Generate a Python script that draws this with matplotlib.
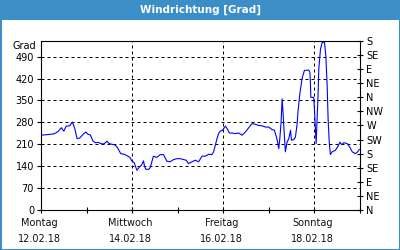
import matplotlib
matplotlib.use("Agg")
import matplotlib.pyplot as plt
from matplotlib.patches import Rectangle

# hours since Montag 12.02.18 00:00
hours = [0.0, 5.4, 7.2, 9.0, 10.7, 12.0, 13.3, 15.1, 16.5, 17.8, 19.0, 20.4, 22.2, 23.6,
         24.8, 26.0, 27.4, 28.6, 30.1, 31.5, 33.1, 34.8, 35.9, 37.5, 38.9, 40.2, 42.0,
         43.8, 45.5, 46.9, 47.8, 49.1, 50.5, 51.9, 52.9, 54.0, 54.5, 55.2, 56.6, 57.5,
         58.4, 59.2, 61.0, 62.8, 64.5, 66.3, 68.0, 69.8, 71.6, 73.3, 75.1, 76.5, 77.7,
         79.5, 81.2, 83.0, 84.8, 86.5, 88.3, 90.0, 90.9, 91.8, 92.7, 93.5, 94.4, 95.6,
         97.1, 98.0, 99.2, 100.6, 102.3, 104.1, 105.9, 107.6, 109.4, 111.1, 112.9, 114.6,
         116.4, 118.2, 119.9, 121.7, 122.9, 124.0, 124.6, 125.2, 125.7, 126.4, 127.0,
         127.5, 128.2, 128.7, 129.6, 130.5, 131.4, 131.9, 133.1, 134.0, 134.9, 135.4,
         136.3, 137.5, 138.7, 141.0, 141.6, 141.9, 142.1, 143.6, 144.0, 144.9, 145.4,
         145.9, 146.3, 147.2, 148.1, 149.3, 150.0, 150.7, 151.2, 151.8, 152.4, 153.3,
         155.1, 156.7, 157.4, 158.3, 159.5, 161.3, 162.6, 163.9, 165.6, 166.8, 167.6]
grad = [239, 242, 244, 251, 263, 252, 268, 269, 281, 260, 228, 230, 242, 249,
        242, 240, 220, 215, 216, 212, 211, 220, 212, 210, 208, 200, 180,
        178, 173, 168, 157, 151, 127, 138, 143, 157, 140, 130, 130, 135,
        154, 172, 168, 177, 177, 156, 154, 161, 164, 164, 161, 159, 148,
        154, 159, 154, 172, 172, 178, 177, 186, 207, 228, 244, 252, 255,
        268, 260, 246, 246, 244, 246, 239, 249, 263, 276, 274, 270,
        269, 265, 265, 257, 255, 233, 217, 196, 223, 276, 355,
        308, 233, 186, 217, 228, 255, 223, 225, 233, 276, 318,
        371, 420, 446, 447, 440, 405, 360, 360, 324, 212, 292,
        366, 451, 514, 536, 536, 493, 398, 292, 217, 177, 186,
        191, 207, 217, 209, 215, 212, 201, 186, 180, 186, 194]

left_ticks = [0, 70, 140, 210, 280, 350, 420, 490]
right_ticks = [0, 45, 90, 135, 180, 225, 270, 315, 360, 405, 450, 495, 540]
right_labels = ["N", "NE", "E", "SE", "S", "SW", "W", "NW", "N", "NE", "E", "SE", "S"]
day_ticks = [0, 24, 48, 72, 96, 120, 144, 168]
label_ticks = [0, 48, 96, 144]
label_texts = ["Montag\n12.02.18", "Mittwoch\n14.02.18", "Freitag\n16.02.18", "Sonntag\n18.02.18"]
title = "Windrichtung [Grad]"

W, H = 400, 250
fig = plt.figure(figsize=(4, 2.5), dpi=100)
fig.patch.set_facecolor("white")
blue = "#3c8ec6"

# title bar and border
fig.patches.append(Rectangle((0, 1 - 20 / H), 1, 20 / H, transform=fig.transFigure,
                             facecolor=blue, edgecolor="none", zorder=0))
fig.patches.append(Rectangle((0.5 / W, 0.5 / H), 1 - 1 / W, 1 - 1 / H, transform=fig.transFigure,
                             facecolor="none", edgecolor=blue, linewidth=1.5, zorder=0))
fig.text(0.5, 1 - 10 / H, title, color="white", fontsize=7.5, fontweight="bold",
         ha="center", va="center")

ax = fig.add_axes([41 / W, (H - 210) / H, (360 - 41) / W, (210 - 41) / H])
ax.set_facecolor("white")
ax.plot(hours, grad, color="#0000ff", linewidth=0.8, zorder=3)
ax.set_xlim(0, 168)
ax.set_ylim(0, 540)

for s in ax.spines.values():
    s.set_color("black")
    s.set_linewidth(0.8)

ax.set_yticks(left_ticks)
ax.set_yticklabels([str(v) for v in left_ticks])
ax.tick_params(axis="y", labelsize=7, length=3, direction="out", pad=2, colors="black")
for v in left_ticks[1:]:
    ax.axhline(v, color="black", linestyle=(0, (3, 3)), linewidth=0.72, zorder=1)

ax.set_xticks(day_ticks)
ax.set_xticklabels(["" for _ in day_ticks])
ax.tick_params(axis="x", length=4, direction="inout", colors="black")
for v in label_ticks[1:]:
    ax.axvline(v, color="black", linestyle=(0, (3, 3)), linewidth=0.72, zorder=1)
for v, t in zip(label_ticks, label_texts):
    ax.text(v - 1.0, -25, t, fontsize=7, ha="center", va="top", linespacing=1.75,
            color="#111111")

ax.text(-0.016, 525, "Grad", fontsize=7, ha="right", va="center",
        transform=ax.get_yaxis_transform())

ax2 = ax.twinx()
ax2.set_ylim(0, 540)
ax2.set_yticks(right_ticks)
ax2.set_yticklabels(right_labels)
ax2.tick_params(axis="y", labelsize=7, length=5, direction="inout", pad=2, colors="black")
for s in ax2.spines.values():
    s.set_visible(False)

fig.savefig("out.png", dpi=100)
